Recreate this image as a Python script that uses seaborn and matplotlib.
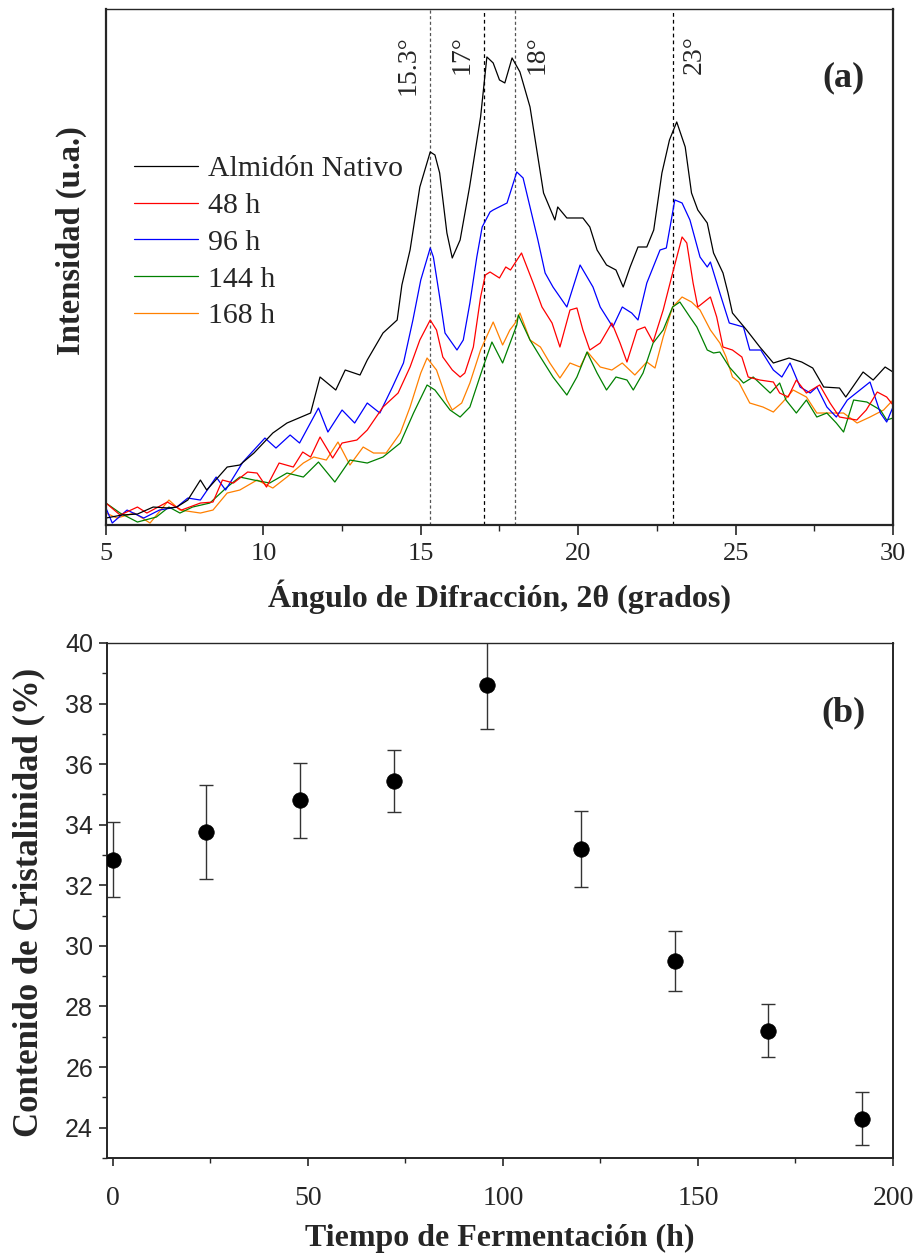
import numpy as np
import pandas as pd
import matplotlib
matplotlib.use("Agg")
import matplotlib.pyplot as plt
from matplotlib.lines import Line2D
from matplotlib.ticker import MultipleLocator
import seaborn as sns

# ---------------- Panel (a): XRD patterns (intensity in arbitrary units) ----------------
nat_x = [5.0, 5.5, 6.0, 6.5, 7.0, 7.25, 7.6, 8.0, 8.2, 8.4, 8.85, 9.25, 9.7, 10.0, 10.3, 10.75,
         11.2, 11.5, 11.8, 12.3, 12.6, 13.07, 13.3, 13.8, 14.25, 14.4, 14.66, 14.97, 15.3, 15.45,
         15.6, 15.83, 16.0, 16.25, 16.55, 16.9, 17.1, 17.3, 17.5, 17.67, 17.9, 18.15, 18.47, 18.72,
         18.9, 19.26, 19.35, 19.64, 20.15, 20.37, 20.6, 20.9, 21.2, 21.43, 21.65, 21.9, 22.18, 22.4,
         22.66, 22.9, 23.13, 23.4, 23.6, 23.8, 24.1, 24.3, 24.6, 24.76, 24.9, 25.35, 25.77, 26.2,
         26.7, 27.1, 27.45, 27.8, 28.3, 28.5, 29.05, 29.37, 29.75, 30.0]
nat_y = [7, 10, 11, 18, 17, 18, 25, 45, 35, 42, 58, 60, 72, 82, 92, 102,
         108, 112, 148, 135, 155, 150, 165, 192, 205, 240, 275, 338, 373, 370,
         352, 292, 267, 285, 338, 408, 468, 462, 445, 442, 467, 453, 418, 368,
         332, 305, 318, 307, 307, 298, 275, 260, 255, 238, 258, 278, 278, 295,
         352, 385, 403, 378, 332, 315, 302, 272, 252, 232, 212, 195, 178, 162,
         167, 163, 157, 138, 137, 128, 153, 145, 158, 153]

h48_x = [5.0, 5.45, 6.0, 6.3, 6.95, 7.4, 8.0, 8.4, 8.7, 9.05, 9.5, 9.8, 10.1, 10.5, 10.95, 11.25,
         11.5, 11.8, 12.2, 12.5, 12.97, 13.3, 13.8, 14.28, 14.66, 14.97, 15.3, 15.5, 15.7, 16.0,
         16.25, 16.4, 16.67, 16.9, 17.05, 17.2, 17.5, 17.7, 17.85, 18.2, 18.57, 18.85, 19.17, 19.42,
         19.74, 19.96, 20.15, 20.37, 20.7, 21.07, 21.33, 21.55, 21.87, 22.12, 22.38, 22.7, 23.0,
         23.3, 23.45, 23.65, 23.8, 24.2, 24.4, 24.6, 24.9, 25.2, 25.4, 25.77, 26.2, 26.4, 26.67,
         26.93, 27.25, 27.67, 28.0, 28.3, 28.85, 29.15, 29.5, 29.8, 30.0]
h48_y = [22, 10, 18, 12, 23, 15, 22, 23, 45, 42, 53, 52, 38, 62, 58, 73,
         68, 88, 67, 82, 85, 95, 118, 132, 158, 185, 205, 195, 168, 155,
         148, 152, 178, 228, 250, 253, 247, 258, 255, 272, 242, 218, 202, 178,
         215, 217, 195, 175, 182, 202, 182, 163, 195, 198, 183, 215, 252,
         288, 282, 242, 218, 228, 208, 178, 175, 168, 148, 145, 143, 132, 128,
         145, 132, 140, 122, 108, 105, 115, 133, 128, 120]

h96_x = [5.0, 5.2, 5.67, 6.2, 6.7, 7.25, 7.6, 8.0, 8.5, 8.8, 9.35, 10.05, 10.4, 10.85, 11.15, 11.75,
         12.05, 12.5, 12.9, 13.3, 13.7, 14.1, 14.45, 14.75, 15.0, 15.3, 15.4, 15.6, 15.77, 16.15,
         16.35, 16.56, 16.78, 16.95, 17.2, 17.3, 17.74, 18.05, 18.25, 18.47, 18.72, 18.95, 19.2,
         19.64, 20.06, 20.47, 20.7, 21.1, 21.4, 21.7, 21.9, 22.18, 22.6, 22.8, 23.07, 23.3, 23.55,
         23.87, 24.1, 24.2, 24.5, 24.8, 25.25, 25.45, 25.8, 26.2, 26.47, 26.73, 27.05, 27.37, 27.58,
         27.9, 28.2, 28.55, 28.95, 29.27, 29.6, 29.8, 30.0]
h96_y = [17, 2, 15, 7, 15, 18, 27, 25, 48, 35, 63, 87, 77, 90, 82, 117,
         93, 115, 102, 122, 112, 138, 162, 205, 245, 277, 268, 228, 192, 175,
         185, 222, 268, 298, 313, 315, 322, 353, 347, 318, 285, 252, 238,
         218, 260, 238, 218, 198, 218, 212, 205, 242, 275, 277, 325, 322, 305,
         268, 258, 263, 232, 202, 198, 175, 175, 155, 148, 162, 138, 132, 138,
         118, 108, 125, 135, 143, 112, 103, 118]

h144_x = [5.0, 5.45, 6.0, 6.6, 7.0, 7.35, 7.75, 8.3, 8.85, 9.25, 9.7, 10.2, 10.75, 11.27, 11.75,
          12.27, 12.75, 13.3, 13.8, 14.35, 14.77, 15.2, 15.45, 15.93, 16.25, 16.56, 16.98, 17.26,
          17.6, 18.05, 18.1, 18.47, 18.8, 19.2, 19.64, 19.96, 20.28, 20.6, 20.9, 21.2, 21.55, 21.75,
          22.06, 22.38, 22.7, 23.0, 23.23, 23.55, 23.77, 24.1, 24.3, 24.5, 24.8, 25.25, 25.56, 26.1,
          26.4, 26.6, 26.93, 27.25, 27.58, 27.9, 28.2, 28.43, 28.75, 29.17, 29.6, 29.8, 30.0]
h144_y = [22, 12, 3, 8, 18, 12, 18, 22, 38, 48, 45, 42, 52, 48, 63,
          43, 65, 62, 68, 82, 112, 140, 135, 115, 108, 118, 158, 183,
          162, 200, 210, 185, 168, 148, 130, 148, 173, 152, 135, 148, 145, 135,
          152, 182, 195, 218, 223, 208, 198, 175, 172, 173, 158, 142, 148, 132,
          142, 125, 112, 125, 108, 112, 102, 93, 125, 123, 115, 105, 107]

h168_x = [5.0, 5.35, 5.9, 6.4, 7.0, 7.35, 8.0, 8.4, 8.85, 9.25, 9.8, 10.3, 10.75, 11.27, 11.6, 12.0,
          12.37, 12.75, 13.17, 13.5, 13.9, 14.35, 14.66, 15.0, 15.2, 15.5, 15.83, 16.0, 16.3, 16.56,
          16.9, 17.3, 17.6, 17.83, 18.0, 18.15, 18.47, 18.8, 19.1, 19.42, 19.74, 20.06, 20.3, 20.7,
          21.07, 21.4, 21.8, 22.18, 22.44, 22.7, 23.0, 23.3, 23.6, 23.87, 24.2, 24.5, 24.7, 24.9,
          25.1, 25.45, 25.87, 26.2, 26.5, 26.83, 27.25, 27.58, 28.0, 28.43, 28.86, 29.27, 29.7, 30.0]
h168_y = [12, 7, 12, 2, 25, 15, 12, 15, 32, 35, 45, 37, 48, 62, 68, 65,
          83, 60, 78, 72, 72, 92, 118, 152, 167, 155, 125, 115, 122, 142,
          175, 203, 180, 195, 202, 212, 185, 178, 162, 147, 162, 158, 173, 158,
          155, 162, 150, 163, 157, 188, 218, 228, 223, 215, 195, 182, 168, 148,
          143, 122, 118, 113, 123, 135, 128, 112, 112, 112, 102, 108, 115, 125]

series_names = ["Almidón Nativo", "48 h", "96 h", "144 h", "168 h"]
series_colors = ["#000000", "#ff0000", "#0000ff", "#008000", "#ff8000"]
peak_positions = [15.3, 17, 18, 23]
peak_labels = ["15.3°", "17°", "18°", "23°"]

# ---------------- Panel (b): crystallinity ----------------
time_h = [0, 24, 48, 72, 96, 120, 144, 168, 192]
crist = [32.85, 33.75, 34.8, 35.45, 38.6, 33.2, 29.5, 27.2, 24.3]
crist_err = [1.23, 1.55, 1.25, 1.02, 1.45, 1.25, 0.98, 0.87, 0.87]

# ---------------- style ----------------
sns.set_style("ticks")
plt.rcParams["font.family"] = ["Liberation Serif", "DejaVu Serif"]

fig = plt.figure(figsize=(9.19, 12.6), dpi=100)
ax1 = fig.add_axes([0.1153, 0.5833, 0.8564, 0.4096])
ax2 = fig.add_axes([0.1164, 0.0810, 0.8553, 0.4087])

frames = []
for name, xs, ys in zip(series_names,
                        [nat_x, h48_x, h96_x, h144_x, h168_x],
                        [nat_y, h48_y, h96_y, h144_y, h168_y]):
    frames.append(pd.DataFrame({"theta": xs, "I": ys, "serie": name}))
df = pd.concat(frames, ignore_index=True)

for name, col in reversed(list(zip(series_names, series_colors))):
    sns.lineplot(data=df[df["serie"] == name], x="theta", y="I", color=col,
                 lw=0.9, ax=ax1, estimator=None, sort=False, legend=False)

for pos, lab in zip(peak_positions, peak_labels):
    grey = pos in (15.3, 18)
    ax1.axvline(pos, color="#555555" if grey else "#000000",
                ls=(0, (2.5, 2)) if grey else (0, (3, 2.5)), lw=0.9, zorder=0)
    if pos < 17.5:
        ax1.text(pos - 0.3, 490, lab, rotation=90, ha="right", va="top", fontsize=20)
    else:
        ax1.text(pos + 0.3, 490, lab, rotation=90, ha="left", va="top", fontsize=20)

ax1.text(28.44, 447, "(a)", fontsize=26, fontweight="bold", ha="center", va="center")

handles = [Line2D([0], [0], color=c, lw=0.9) for c in series_colors]
ax1.legend(handles, series_names, loc="upper left", bbox_to_anchor=(0.035, 0.716),
           frameon=False, fontsize=21.5, handlelength=2.15, handletextpad=0.33,
           labelspacing=0.33, borderpad=0, borderaxespad=0)

ax1.set_xlim(5, 30)
ax1.set_ylim(0, 516)
ax1.set_yticks([])
ax1.xaxis.set_major_locator(MultipleLocator(5))
ax1.xaxis.set_minor_locator(MultipleLocator(2.5))
ax1.tick_params(axis="x", which="major", direction="out", length=7, width=1.2, labelsize=19, pad=6)
ax1.tick_params(axis="x", which="minor", direction="out", length=4, width=1.0)
ax1.set_xlabel("Ángulo de Difracción, 2θ (grados)", fontsize=23, fontweight="bold")
ax1.set_ylabel("Intensidad (u.a.)", fontsize=23.5, fontweight="bold")
ax1.xaxis.set_label_coords(0.5, -0.105)
ax1.yaxis.set_label_coords(-0.024, 0.552)
for sp in ax1.spines.values():
    sp.set_visible(True)
    sp.set_linewidth(1.6)
ax1.spines["top"].set_linewidth(1.0)

# ---------------- panel (b) ----------------
dfb = pd.DataFrame({"t": time_h, "c": crist, "e": crist_err})
ax2.errorbar(dfb["t"], dfb["c"], yerr=dfb["e"], fmt="none", ecolor="#333333",
             elinewidth=1.0, capsize=5, capthick=1.0, zorder=2)
sns.scatterplot(data=dfb, x="t", y="c", ax=ax2, color="black", s=125,
                edgecolor="black", linewidth=0.5, zorder=3, legend=False)
ax2.text(187.4, 37.69, "(b)", fontsize=26, fontweight="bold", ha="center", va="center")

ax2.set_xlim(-1.5, 200)
ax2.set_ylim(23, 40)
ax2.xaxis.set_major_locator(MultipleLocator(50))
ax2.xaxis.set_minor_locator(MultipleLocator(25))
ax2.yaxis.set_major_locator(MultipleLocator(2))
ax2.yaxis.set_minor_locator(MultipleLocator(1))
ax2.tick_params(axis="both", which="major", direction="out", length=6, width=1.2)
ax2.tick_params(axis="both", which="minor", direction="out", length=3.5, width=1.0)
ax2.tick_params(axis="x", which="major", labelsize=20, pad=14)
ax2.tick_params(axis="y", which="major", labelsize=18, pad=4)
for lab in ax2.get_yticklabels():
    lab.set_family(["Liberation Sans", "DejaVu Sans"])
ax2.set_xlabel("Tiempo de Fermentación (h)", fontsize=23, fontweight="bold")
ax2.set_ylabel("Contenido de Cristalinidad (%)", fontsize=25, fontweight="bold")
ax2.xaxis.set_label_coords(0.5, -0.128)
ax2.yaxis.set_label_coords(-0.078, 0.497)
for sp in ax2.spines.values():
    sp.set_visible(True)
    sp.set_linewidth(1.4)
ax2.spines["top"].set_linewidth(1.0)

fig.savefig("out.png", dpi=100)
